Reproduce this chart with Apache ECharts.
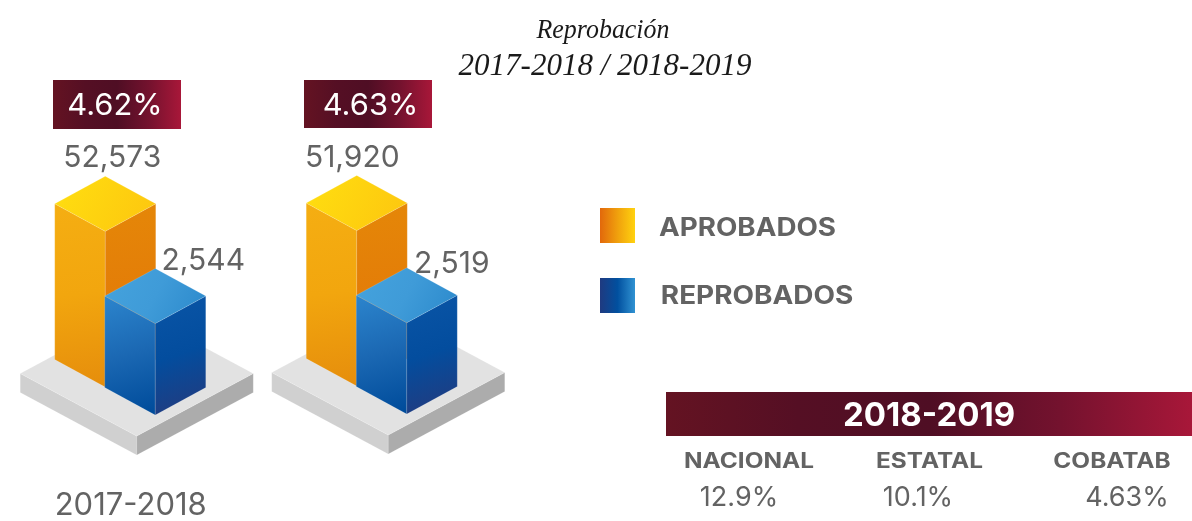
<!DOCTYPE html>
<html lang="es">
<head>
<meta charset="utf-8">
<title>Reprobación</title>
<style>
  html, body { margin: 0; padding: 0; background: #fff; }
  #chart { width: 1192px; height: 521px; }
</style>
<script src="https://cdn.jsdelivr.net/npm/echarts@6/dist/echarts.min.js"></script>
</head>
<body>
<div id="chart"></div>
<script>
const titleLines = ['Reprobación', '2017-2018 / 2018-2019'];
const categories = ['2017-2018', '2018-2019'];
const aprobados = [52573, 51920];
const reprobados = [2544, 2519];
const reprobacion = ['4.62%', '4.63%'];
const legendNames = ['APROBADOS', 'REPROBADOS'];
const tableTitle = '2018-2019';
const tableNames = ['NACIONAL', 'ESTATAL', 'COBATAB'];
const tableValues = ['12.9%', '10.1%', '4.63%'];

const SANS = 'Inter, "Noto Sans", sans-serif';
const GREY = '#636363';
// value the bar floors stand on: the bars follow a log scale that starts here
const FLOOR_VALUE = 34;

// isometric footprint of the bars and of the plate under them, in pixels
const BAR_HALF_W = 50.5;
const BAR_HALF_D = 27.5;
const PLATE_HALF_W = 116.5;
const PLATE_HALF_D = 62.5;
const PLATE_THICK = 19;
// the second panel sits one pixel higher in the reference
const panelLift = [0, 1];
const amountLabelOffset = {
  aprobados: [[7, -18], [-4.5, -18]],
  reprobados: [[48, -8], [45, -4]],
};

function gradient(x2, y2, stops) {
  return new echarts.graphic.LinearGradient(0, 0, x2, y2,
    stops.map((color, i) => ({ offset: i / (stops.length - 1), color })));
}

function poly(points, fill) {
  return {
    type: 'polygon',
    silent: true,
    shape: { points },
    style: { fill, stroke: 'rgba(255,255,255,0.22)', lineWidth: 0.6 },
  };
}

// text element, scaleX stands in for the wider face of the original lettering
function textEl(str, x, y, font, fill, scaleX) {
  return {
    type: 'text',
    silent: true,
    x,
    y,
    scaleX: scaleX || 1,
    style: { text: str, font, fill, align: 'center', verticalAlign: 'middle' },
  };
}

function barItem(opts) {
  return (params, api) => {
    const i = params.dataIndex;
    const base = api.coord([i, FLOOR_VALUE]);
    const cx = base[0] + opts.dx;
    const floor = base[1] - panelLift[i] - opts.floorUp;
    const height = base[1] - api.coord([i, api.value(1)])[1];
    const frontBottom = [cx, floor];
    const frontTop = [cx, floor - height];
    const leftBottom = [cx - BAR_HALF_W, floor - BAR_HALF_D];
    const leftTop = [cx - BAR_HALF_W, floor - BAR_HALF_D - height];
    const rightBottom = [cx + BAR_HALF_W, floor - BAR_HALF_D];
    const rightTop = [cx + BAR_HALF_W, floor - BAR_HALF_D - height];
    const back = [cx, floor - 2 * BAR_HALF_D - height];
    const off = opts.labelOffset[i];
    return {
      type: 'group',
      children: [
        poly([leftTop, frontTop, frontBottom, leftBottom], opts.left),
        poly([frontTop, rightTop, rightBottom, frontBottom], opts.right),
        poly([back, rightTop, frontTop, leftTop], opts.top),
        textEl(api.value(1).toLocaleString('en-US'), cx + off[0], back[1] + off[1],
          '400 30px ' + SANS, GREY),
      ],
    };
  };
}

function plateItem(params, api) {
  const i = params.dataIndex;
  const pt = api.coord([i, FLOOR_VALUE]);
  const cx = pt[0];
  const front = pt[1] - panelLift[i] + 21;
  const mid = front - PLATE_HALF_D;
  const left = [cx - PLATE_HALF_W, mid];
  const right = [cx + PLATE_HALF_W, mid];
  const near = [cx, front];
  const far = [cx, mid - PLATE_HALF_D];
  return {
    type: 'group',
    children: [
      poly([left, near, [cx, front + PLATE_THICK], [left[0], mid + PLATE_THICK]], '#d0d0d0'),
      poly([near, right, [right[0], mid + PLATE_THICK], [cx, front + PLATE_THICK]], '#acacac'),
      poly([far, right, near, left], '#e2e2e2'),
    ],
  };
}

const maroon = () => gradient(1, 0, ['#641322', '#550f24', '#4f0e24', '#74122e', '#a81739']);

function rectEl(x, y, width, height, fill) {
  return { type: 'rect', silent: true, shape: { x, y, width, height }, style: { fill } };
}

const badgeX = [53, 304];
const badgeTextX = [115, 370.5];
const tableNameX = [749, 929.5, 1112];
const tableValueX = [739, 918, 1127];

const graphics = [
  textEl(titleLines[0], 603, 31, 'italic 400 27px "Liberation Serif", serif', '#1a1a1a', 0.96),
  textEl(titleLines[1], 605, 67, 'italic 400 31px "Liberation Serif", serif', '#1a1a1a'),
];
reprobacion.forEach((pct, i) => {
  graphics.push(rectEl(badgeX[i], 80, 128, 49 - panelLift[i], maroon()));
  graphics.push(textEl(pct, badgeTextX[i], 106 - panelLift[i] / 2, '400 30px ' + SANS, '#fff', 1.03));
});
graphics.push(rectEl(600, 208, 35, 35, gradient(1, 0, ['#e2680b', '#f0a00d', '#ffd20f'])));
graphics.push(rectEl(600, 278, 35, 35, gradient(1, 0, ['#1f3a80', '#01509f', '#3092d2'])));
graphics.push(textEl(legendNames[0], 747.5, 228, '700 25px ' + SANS, GREY, 1.11));
graphics.push(textEl(legendNames[1], 757, 296, '700 25px ' + SANS, GREY, 1.116));
graphics.push(rectEl(666, 392, 526, 44, maroon()));
graphics.push(textEl(tableTitle, 929, 416, '700 33px ' + SANS, '#fff'));
tableNames.forEach((name, i) => {
  graphics.push(textEl(name, tableNameX[i], 462, '700 21px ' + SANS, GREY, 1.16));
  graphics.push(textEl(tableValues[i], tableValueX[i], 498, '400 27px ' + SANS, GREY));
});

const chart = echarts.init(document.getElementById('chart'), null, { renderer: 'canvas' });
chart.setOption({
  backgroundColor: '#fff',
  animation: false,
  tooltip: { show: false },
  grid: { left: 11, width: 503, top: 245.7, height: 216 },
  xAxis: {
    type: 'category',
    data: categories,
    axisLine: { show: false },
    axisTick: { show: false },
    splitLine: { show: false },
    axisLabel: {
      margin: 49,
      color: GREY,
      fontFamily: SANS,
      fontSize: 31,
      formatter: (value, index) => (index === 0 ? '{first|' + value + '}' : '{rest|' + value + '}'),
      rich: {
        first: { padding: [0, 12, 0, 0], fontFamily: SANS, fontSize: 31, color: GREY },
        rest: { fontFamily: SANS, fontSize: 31, color: GREY },
      },
    },
  },
  yAxis: {
    type: 'log',
    logBase: 10,
    min: 10,
    max: 100000,
    show: false,
  },
  series: [
    {
      name: 'plataforma',
      type: 'custom',
      coordinateSystem: 'cartesian2d',
      clip: false,
      silent: true,
      encode: { x: 0, y: 1 },
      data: categories.map((c, i) => [i, FLOOR_VALUE]),
      renderItem: plateItem,
    },
    {
      name: 'Aprobados',
      type: 'custom',
      coordinateSystem: 'cartesian2d',
      clip: false,
      silent: true,
      encode: { x: 0, y: 1 },
      data: aprobados.map((v, i) => [i, v]),
      renderItem: barItem({
        dx: -31.5,
        floorUp: 28,
        labelOffset: amountLabelOffset.aprobados,
        left: gradient(0.5, 1, ['#f5ae12', '#f2a60e', '#e68e0c']),
        right: gradient(0.3, 1, ['#e58708', '#e27307']),
        top: gradient(1, 1, ['#ffdf10', '#fdc50f']),
      }),
    },
    {
      name: 'Reprobados',
      type: 'custom',
      coordinateSystem: 'cartesian2d',
      clip: false,
      silent: true,
      encode: { x: 0, y: 1 },
      data: reprobados.map((v, i) => [i, v]),
      renderItem: barItem({
        dx: 18.5,
        floorUp: 0,
        labelOffset: amountLabelOffset.reprobados,
        left: gradient(0.7, 1, ['#2c85cd', '#1b68b3', '#004c9b']),
        right: gradient(0.8, 1, ['#0a55a6', '#034d9e', '#243a7d']),
        top: gradient(1, 1, ['#45a3dd', '#3f9bd8', '#2a88cb']),
      }),
    },
  ],
  graphic: { elements: graphics },
});
</script>
</body>
</html>
